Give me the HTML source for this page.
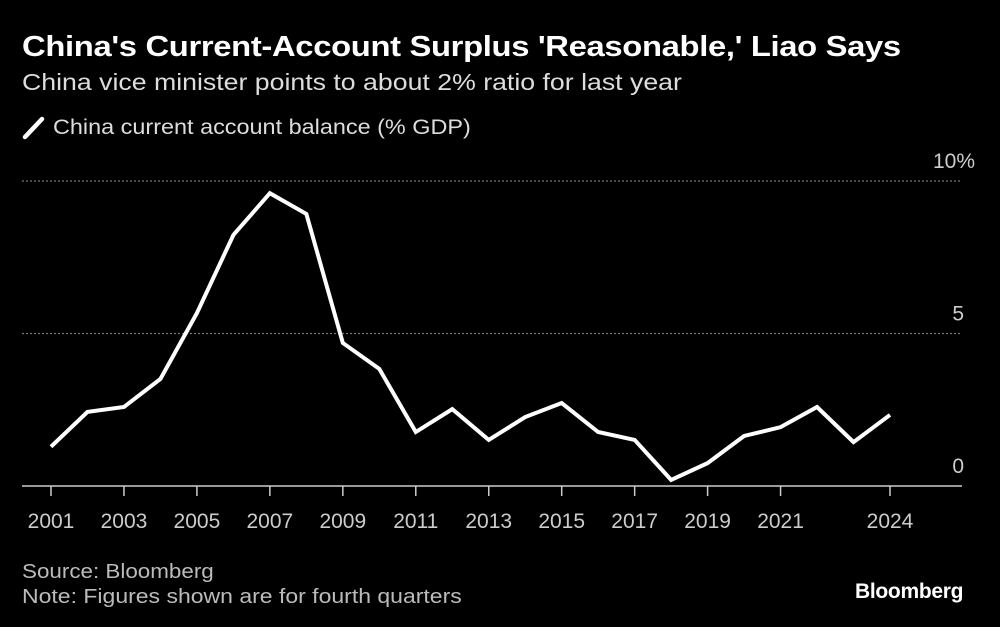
<!DOCTYPE html>
<html><head><meta charset="utf-8"><style>
html,body{margin:0;padding:0;background:#000;}
body{width:1000px;height:627px;overflow:hidden;position:relative;font-family:"Liberation Sans",sans-serif;color:#fff;}
.t{position:absolute;white-space:nowrap;transform-origin:0 0;}
</style></head><body>
<div class="t" style="left:22px;top:31px;font-size:29px;font-weight:bold;letter-spacing:-0.3px;transform:scaleX(1.13);">China's Current-Account Surplus 'Reasonable,' Liao Says</div>
<div class="t" style="left:22px;top:69px;font-size:23px;color:#ddd;transform:scaleX(1.16);">China vice minister points to about 2% ratio for last year</div>
<svg width="26" height="26" style="position:absolute;left:21px;top:115px"><line x1="4" y1="22" x2="21" y2="4" stroke="#fff" stroke-width="4.5" stroke-linecap="round"/></svg>
<div class="t" style="left:53px;top:116px;font-size:21px;color:#ddd;transform:scaleX(1.115);">China current account balance (% GDP)</div>
<svg id="chart" width="1000" height="627" style="position:absolute;left:0;top:0"></svg>
<div class="t" style="left:22px;top:561px;font-size:20px;color:#bbb;transform:scaleX(1.12);">Source: Bloomberg</div>
<div class="t" style="left:22px;top:586px;font-size:20px;color:#bbb;transform:scaleX(1.15);">Note: Figures shown are for fourth quarters</div>
<div class="t" style="left:855px;top:580px;font-size:21px;font-weight:bold;letter-spacing:-0.3px;">Bloomberg</div>
<script>
const years=[2001,2002,2003,2004,2005,2006,2007,2008,2009,2010,2011,2012,2013,2014,2015,2016,2017,2018,2019,2020,2021,2022,2023,2024];
const values=[1.29,2.43,2.59,3.51,5.67,8.23,9.6,8.92,4.69,3.84,1.77,2.52,1.51,2.26,2.72,1.77,1.51,0.2,0.75,1.64,1.93,2.59,1.44,2.33];
const xTicks=[2001,2003,2005,2007,2009,2011,2013,2015,2017,2019,2021,2024];
const yTicks=[0,5,10];
const yLabels=["0","5","10%"];
const NS="http://www.w3.org/2000/svg";
const svg=document.getElementById('chart');
const x=y=>51+(y-2001)*(890-51)/23;
const yS=v=>486-v*30.5;
function mk(t,a){const e=document.createElementNS(NS,t);for(const k in a)e.setAttribute(k,a[k]);svg.appendChild(e);return e;}
yTicks.forEach((v,i)=>{
  if(v!==0){const g=mk('line',{x1:22,x2:962,y1:yS(v),y2:yS(v),stroke:'#777','stroke-width':1.2,'stroke-dasharray':'2,2'});
  
  }
  const t=mk('text',{x:v===10?975:964,y:yS(v)-13,'text-anchor':'end',fill:'#ccc','font-size':21,'font-family':'Liberation Sans, sans-serif'});
  t.textContent=yLabels[i];
  
  
});
const ax=mk('line',{x1:22,x2:962,y1:486,y2:486,stroke:'#ccc','stroke-width':1.5});


xTicks.forEach(yr=>{
  const tk=mk('line',{x1:x(yr),x2:x(yr),y1:486,y2:496,stroke:'#ccc','stroke-width':1.5});
  
  
  const t=mk('text',{x:x(yr),y:528,'text-anchor':'middle',fill:'#ccc','font-size':21,'font-family':'Liberation Sans, sans-serif'});
  t.textContent=yr;
  
  
});
const p=mk('polyline',{points:years.map((yr,i)=>x(yr)+','+yS(values[i])).join(' '),fill:'none',stroke:'#fff','stroke-width':4,'stroke-linejoin':'miter'});


</script>
</body></html>
